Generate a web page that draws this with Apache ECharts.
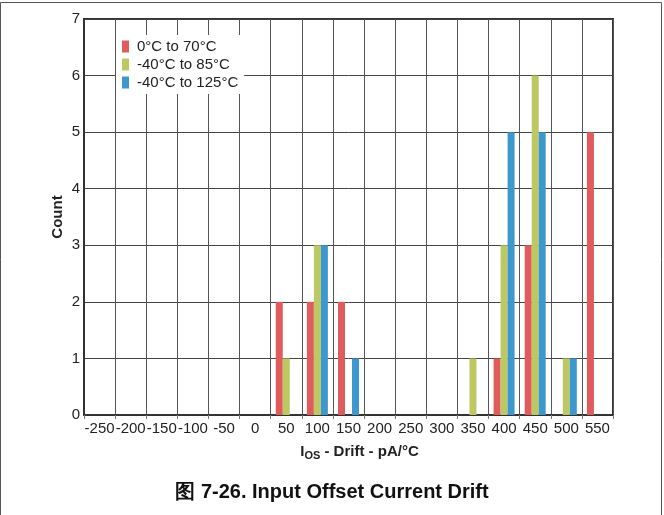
<!DOCTYPE html>
<html>
<head>
<meta charset="utf-8">
<script src="https://cdn.jsdelivr.net/npm/echarts@6/dist/echarts.min.js"></script>
<style>
html,body{margin:0;padding:0;background:#fff;}
#c{width:664px;height:515px;}
</style>
</head>
<body>
<div id="c"></div>
<script>
const categories = ['-250','-200','-150','-100','-50','0','50','100','150','200','250','300','350','400','450','500','550'];
const seriesNames = ['0°C to 70°C','-40°C to 85°C','-40°C to 125°C'];
const range0to70   = [0,0,0,0,0,0,2,2,2,0,0,0,0,1,3,0,5];
const range40to85  = [0,0,0,0,0,0,1,3,0,0,0,0,1,3,6,1,0];
const range40to125 = [0,0,0,0,0,0,0,3,1,0,0,0,0,5,5,1,0];
const yTicks = [0,1,2,3,4,5,6,7];

const colors = ['#E05C5C','#BEC863','#3D98CE'];
const font = 'Liberation Sans, Arial, sans-serif';
const chart = echarts.init(document.getElementById('c'), null, {renderer:'canvas'});
const mk = (name, data, color) => ({
  name, type:'bar', data, barWidth:7, barGap:'0%',
  itemStyle:{color}, emphasis:{disabled:true}
});
chart.setOption({
  animation:false,
  textStyle:{fontFamily:font},
  title:{
    text:'图 7-26. Input Offset Current Drift',
    left:'center', top:477,
    textStyle:{fontFamily:font, fontSize:20, fontWeight:'bold', color:'#111'}
  },
  graphic:[{
    type:'polyline', silent:true,
    shape:{points:[[0.5,520],[0.5,2.5],[661.5,2.5],[661.5,520]]},
    style:{stroke:'#555', lineWidth:1, fill:null}
  }],
  legend:{
    orient:'vertical', left:116, top:35,
    itemWidth:7, itemHeight:12, itemGap:3,
    backgroundColor:'#fff', padding:[4,6,4,6],
    icon:'rect',
    textStyle:{fontFamily:font, fontSize:15, color:'#222', padding:[0,0,0,3]},
    data:seriesNames
  },
  grid:{left:84, right:51, top:19, bottom:100, show:true, borderColor:'#333', borderWidth:2},
  xAxis:{
    type:'category', data:categories, boundaryGap:true,
    axisLine:{show:true, lineStyle:{color:'#333', width:2}},
    axisTick:{show:true, length:4, interval:0, lineStyle:{color:'#777'}},
    axisLabel:{interval:0, fontSize:15, color:'#222', margin:6, fontFamily:font},
    splitLine:{show:true, interval:0, lineStyle:{color:'#555', width:1}},
    name:'{m|I}{s|OS}{m| - Drift - pA/°C}',
    nameLocation:'middle', nameGap:27,
    nameTextStyle:{
      padding:[0,0,0,22],
      rich:{
        m:{fontFamily:font, fontSize:15, fontWeight:'bold', color:'#222'},
        s:{fontFamily:font, fontSize:11, fontWeight:'bold', color:'#222', padding:[8,0,0,0]}
      }
    }
  },
  yAxis:{
    type:'value', min:0, max:7, interval:1,
    axisLine:{show:true, lineStyle:{color:'#333', width:2}},
    axisTick:{show:false},
    axisLabel:{fontSize:15, color:'#222', margin:4, fontFamily:font,
      formatter:(v)=> yTicks.includes(v) ? String(v) : ''},
    splitLine:{show:true, lineStyle:{color:'#444', width:1}},
    name:'Count', nameLocation:'middle', nameGap:19, nameMoveOverlap:false,
    nameTextStyle:{fontFamily:font, fontSize:15, fontWeight:'bold', color:'#222'}
  },
  series:[
    mk(seriesNames[0], range0to70, colors[0]),
    mk(seriesNames[1], range40to85, colors[1]),
    mk(seriesNames[2], range40to125, colors[2])
  ]
});
</script>
</body>
</html>
